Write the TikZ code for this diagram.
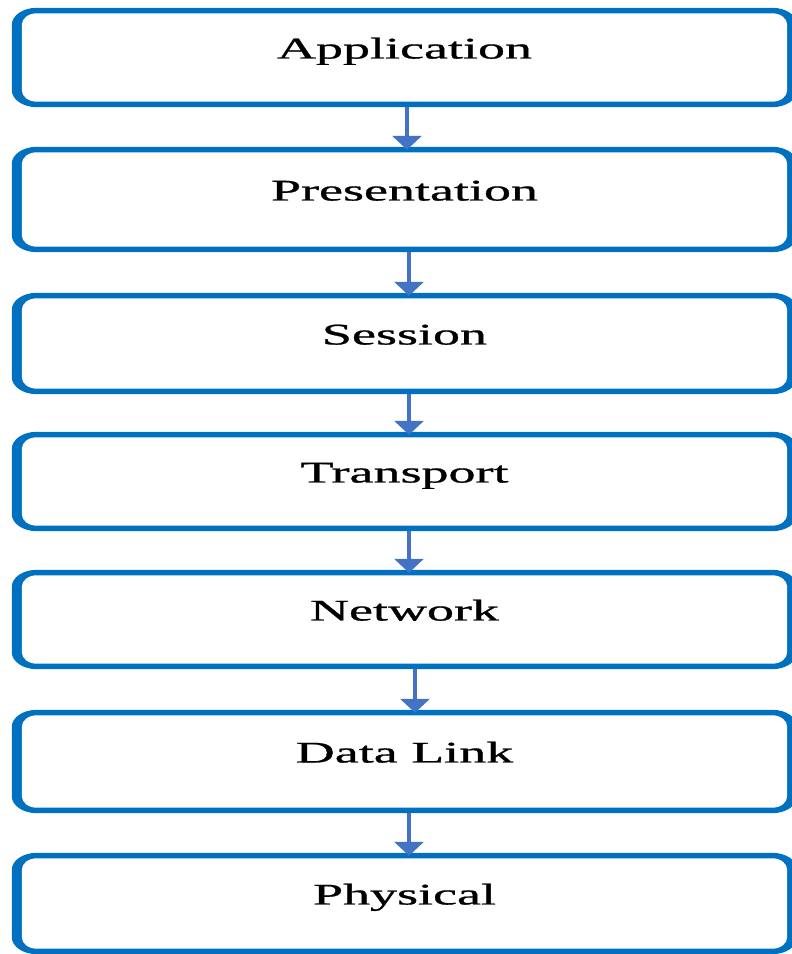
\documentclass[tikz,border=0pt]{standalone}
\usepackage{fontspec}
\usepackage{graphicx}
\setmainfont{Liberation Serif}
\newfontfamily\labelfont{Liberation Serif}[FakeBold=0.7]
\usetikzlibrary{arrows.meta,backgrounds}

\definecolor{boxblue}{HTML}{0070C0}
\definecolor{arrowblue}{HTML}{4472C4}

% Frame of one layer: a band that is wider at the sides than at top and bottom,
% with elliptical corners, drawn round the node #1.
\newcommand{\layerframe}[1]{%
  \fill[boxblue]
    ([xshift=25pt]#1.north west) -- ([xshift=-25pt]#1.north east)
    arc[start angle=90,end angle=0,x radius=25pt,y radius=17pt]
    -- ([yshift=17pt]#1.south east)
    arc[start angle=0,end angle=-90,x radius=25pt,y radius=17pt]
    -- ([xshift=25pt]#1.south west)
    arc[start angle=270,end angle=180,x radius=25pt,y radius=17pt]
    -- ([yshift=-17pt]#1.north west)
    arc[start angle=180,end angle=90,x radius=25pt,y radius=17pt] -- cycle;
  \fill[white]
    ([shift={(25pt,-5.5pt)}]#1.north west) -- ([shift={(-25pt,-5.5pt)}]#1.north east)
    arc[start angle=90,end angle=0,x radius=15pt,y radius=11.5pt]
    -- ([shift={(-10pt,17pt)}]#1.south east)
    arc[start angle=0,end angle=-90,x radius=15pt,y radius=11.5pt]
    -- ([shift={(25pt,5.5pt)}]#1.south west)
    arc[start angle=270,end angle=180,x radius=15pt,y radius=11.5pt]
    -- ([shift={(10pt,-17pt)}]#1.north west)
    arc[start angle=180,end angle=90,x radius=15pt,y radius=11.5pt] -- cycle;
}

% Wide serif label
\newcommand{\widelabel}[1]{\scalebox{1.8}[1]{#1}}

\tikzset{
  layer/.style={rectangle, inner sep=0pt, minimum width=785pt,
    text height=20pt, text depth=18pt,
    font=\labelfont\fontsize{30}{36}\selectfont},
  flow/.style={draw=arrowblue, line width=4.5pt,
    -{Triangle[width=29pt,length=14pt]}}
}

\begin{document}
\begin{tikzpicture}[x=1pt,y=1pt]
  \useasboundingbox (0,0) rectangle (792,954);
  \clip (0,0) rectangle (792,954);

  \node[layer, minimum height=99pt]  (app)  at (404.5,896.5) {\widelabel{Application}};
  \node[layer, minimum height=105pt] (pres) at (404.5,754.5) {\widelabel{Presentation}};
  \node[layer, minimum height=101pt] (sess) at (404.5,610.5) {\widelabel{Session}};
  \node[layer, minimum height=99pt]  (tran) at (404.5,472.5) {\widelabel{Transport}};
  \node[layer, minimum height=99pt]  (netw) at (404.5,334.5) {\widelabel{Network}};
  \node[layer, minimum height=103pt] (link) at (404.5,192.5) {\widelabel{Data Link}};
  \node[layer, minimum height=101pt] (phys) at (404.5,50.5)  {\widelabel{Physical}};

  \begin{pgfonlayer}{background}
    \layerframe{app}
    \layerframe{pres}
    \layerframe{sess}
    \layerframe{tran}
    \layerframe{netw}
    \layerframe{link}
    \layerframe{phys}
  \end{pgfonlayer}

  \draw[flow] ([xshift=2.5pt]app.south)  -- ([shift={(2.5pt,-3pt)}]pres.north);
  \draw[flow] ([xshift=4.5pt]pres.south) -- ([shift={(4.5pt,-3pt)}]sess.north);
  \draw[flow] ([xshift=4.5pt]sess.south) -- ([shift={(4.5pt,-3pt)}]tran.north);
  \draw[flow] ([xshift=4.5pt]tran.south) -- ([shift={(4.5pt,-3pt)}]netw.north);
  \draw[flow] ([xshift=10.5pt]netw.south) -- ([shift={(10.5pt,-3pt)}]link.north);
  \draw[flow] ([xshift=4.5pt]link.south) -- ([shift={(4.5pt,-3pt)}]phys.north);
\end{tikzpicture}
\end{document}
